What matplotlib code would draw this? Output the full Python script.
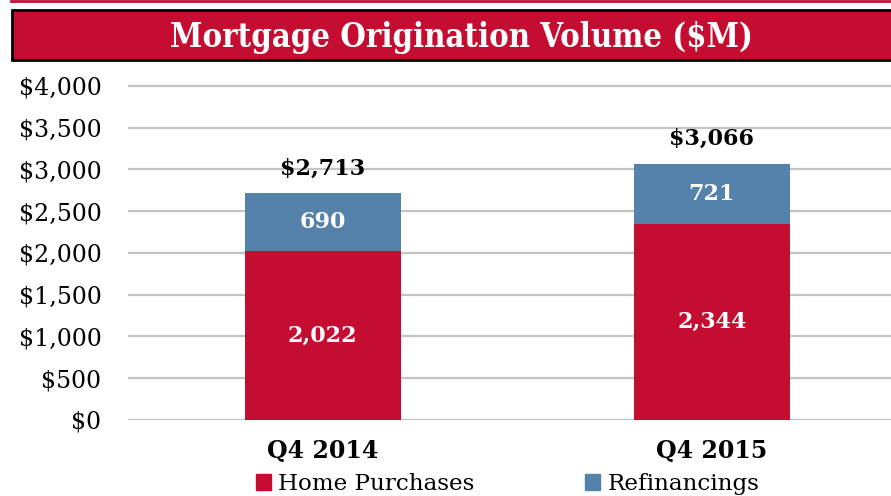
import matplotlib
matplotlib.use("Agg")
import matplotlib.pyplot as plt
from matplotlib.patches import Rectangle, Patch
from matplotlib.lines import Line2D

categories = ["Q4 2014", "Q4 2015"]
home_purchases = [2022, 2344]
refinancings = [690, 721]
totals = [2713, 3066]
series_names = ["Home Purchases", "Refinancings"]
title = "Mortgage Origination Volume ($M)"
yticks = [0, 500, 1000, 1500, 2000, 2500, 3000, 3500, 4000]

RED = "#C50D32"
BLUE = "#5482AB"
FONT = "DejaVu Serif"

W, H = 891, 496
fig = plt.figure(figsize=(W / 100, H / 100), dpi=100)

# top red rule
fig.add_artist(Line2D([11 / W, 1], [1 - 1 / H, 1 - 1 / H], color=RED, lw=2))
# title banner with a light shadow
fig.add_artist(Rectangle((14 / W, (H - 62) / H), 1, 50 / H, facecolor="#D4D4D4",
                         edgecolor="none", transform=fig.transFigure))
fig.add_artist(Rectangle((12 / W, (H - 60) / H), 1, 50 / H, facecolor=RED,
                         edgecolor="black", lw=2, transform=fig.transFigure))
fig.text(461 / W, 1 - 37 / H, title, color="white", fontsize=23.5, fontweight="bold",
         fontstretch="condensed", family=FONT, ha="center", va="center")

ax = fig.add_axes([128 / W, (H - 420) / H, (W - 128) / W, (420 - 81.6) / H])
x = list(range(len(categories)))
width = 0.4
ax.bar(x, home_purchases, width, color=RED, label=series_names[0], zorder=3)
ax.bar(x, refinancings, width, bottom=home_purchases, color=BLUE,
       label=series_names[1], zorder=3)

for i in x:
    ax.text(i, home_purchases[i] / 2, f"{home_purchases[i]:,}", color="white",
            fontsize=16, fontweight="bold", family=FONT, ha="center", va="center", zorder=4)
    ax.text(i, home_purchases[i] + refinancings[i] / 2, f"{refinancings[i]:,}",
            color="white", fontsize=16, fontweight="bold", family=FONT,
            ha="center", va="center", zorder=4)
    ax.annotate(f"${totals[i]:,}", (i, home_purchases[i] + refinancings[i]),
                xytext=(0, 25), textcoords="offset pixels", ha="center", va="center",
                fontsize=16, fontweight="bold", family=FONT, color="black")

ax.set_xlim(-0.5, 1.46)
ax.set_ylim(0, 4050)
ax.set_yticks(yticks)
ax.set_yticklabels([f"${v:,}" for v in yticks], family=FONT, fontsize=17)
ax.set_xticks(x)
ax.set_xticklabels(categories, family=FONT, fontsize=17, fontweight="bold")
ax.tick_params(axis="y", length=0, pad=19)
ax.tick_params(axis="x", length=0, pad=14)
ax.grid(axis="y", color="#C4C4C4", lw=1.6, zorder=0)
for s in ax.spines.values():
    s.set_visible(False)

fig.legend(handles=[Patch(color=RED), Patch(color=BLUE)], labels=series_names,
           loc="center left", bbox_to_anchor=(256 / W, 1 - 484 / H), ncol=2,
           frameon=False, prop={"family": FONT, "size": 16.6}, handlelength=0.66,
           handleheight=0.66, handletextpad=0.3, columnspacing=4.8, borderpad=0,
           borderaxespad=0)

fig.savefig("out.png", dpi=100)
